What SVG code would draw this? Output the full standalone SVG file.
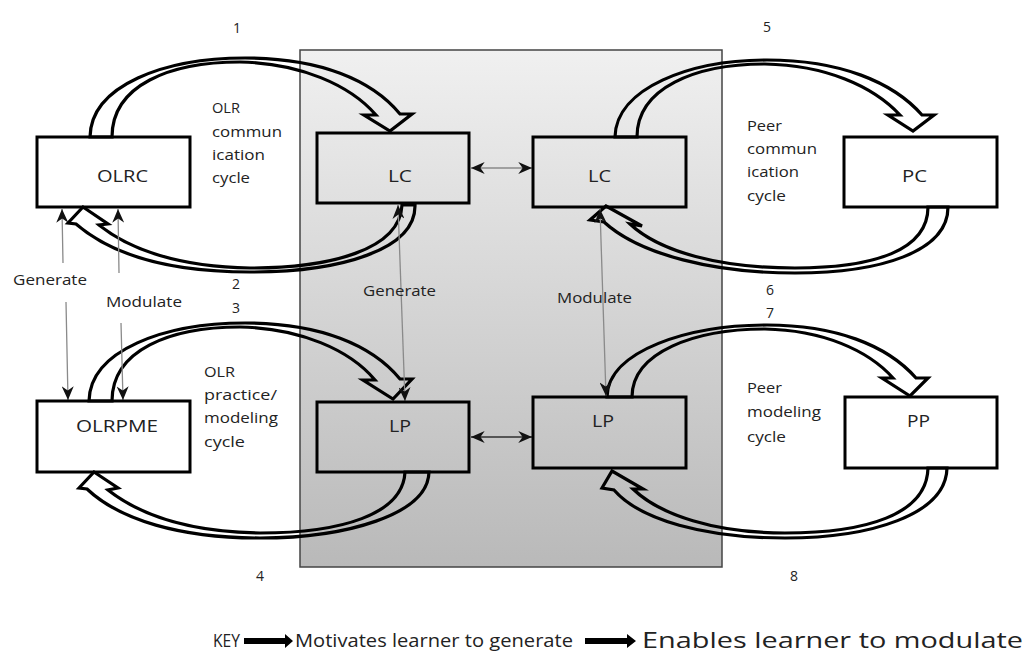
<svg xmlns="http://www.w3.org/2000/svg" width="1026" height="653" viewBox="0 0 1026 653">
<style>
text{font-family:"Open Sans","Liberation Sans",sans-serif;fill:#222}
.n{font-size:16px}
.c{font-size:14px}
.k{font-size:19px}
.k2{font-size:21px}
.box{fill:none;stroke:#000;stroke-width:3}
.cyc{fill:none;stroke:#000;stroke-width:3.2;stroke-linejoin:miter}
.thin{fill:none;stroke:#8a8a8a;stroke-width:1.3}
</style>
<defs>
<linearGradient id="pg" x1="0" y1="0" x2="0" y2="1">
<stop offset="0" stop-color="#f0f0f0"/>
<stop offset="1" stop-color="#b9b9b9"/>
</linearGradient>
<marker id="ah" viewBox="0 0 16 14" refX="16" refY="7" markerWidth="14" markerHeight="12" markerUnits="userSpaceOnUse" orient="auto-start-reverse">
<path d="M0,0 L16,7 L0,14 L5,7 Z" fill="#111"/>
</marker>
</defs>
<rect width="1026" height="653" fill="#fff"/>
<rect id="panel" x="300" y="50" width="422" height="517" fill="url(#pg)" stroke="#444" stroke-width="1.5"/>

<g id="connectors">
<path class="cyc" d="M 90,137 C 91,85 165,58 245,58 C 320,58 372,80 400,114 L 412,114 L 390,131 L 364,115 L 376,115 C 350,85 300,63 240,62 C 170,62 112,85 112,137 Z"/>
<path class="cyc" d="M 415,205 C 416,250 340,272 250,272 C 170,272 112,255 76,224 L 68,223 L 83,207 L 108,224 L 99,225 C 130,250 180,267 250,268 C 330,268 400,250 402,205 Z"/>
<path class="cyc" d="M 89,401 C 90,350 165,323 245,323 C 320,323 372,345 400,379 L 412,379 L 393,399 L 363,380 L 375,380 C 350,350 300,328 240,327 C 170,327 112,350 112,401 Z"/>
<path class="cyc" d="M 429,472 C 428,515 345,538 260,538 C 180,538 120,520 87,489 L 79,488 L 94,472 L 118,488 L 108,490 C 140,515 190,532 260,533 C 340,533 403,515 405,472 Z"/>
<path class="cyc" d="M 615,137 C 616,88 690,60 767,60 C 840,60 893,82 922,115 L 934,115 L 913,131 L 888,115 L 900,115 C 873,86 825,65 765,64 C 695,64 637,88 637,137 Z"/>
<path class="cyc" d="M 948,207 C 948,252 880,273 795,273 C 715,273 640,255 604,222 L 590,220 L 606,206 L 642,226 L 630,224 C 660,252 720,268 795,268 C 875,268 928,250 928,207 Z"/>
<path class="cyc" d="M 607,397 C 608,350 690,325 767,325 C 835,325 887,345 916,378 L 928,378 L 910,396 L 882,378 L 893,378 C 868,350 822,330 765,329 C 695,329 632,352 632,397 Z"/>
<path class="cyc" d="M 947,468 C 946,515 870,538 785,538 C 705,538 640,520 614,490 L 602,488 L 612,471 L 643,489 L 633,489 C 660,515 715,533 785,533 C 865,533 927,515 928,468 Z"/>
<path class="thin" d="M 62,209 L 63,263 M 66,302 L 68,400" marker-start="url(#ah)" marker-end="url(#ah)"/>
<path class="thin" d="M 118,209 L 119,273 M 121,323 L 123,400" marker-start="url(#ah)" marker-end="url(#ah)"/>
<path class="thin" d="M 398,205 L 405,401" marker-start="url(#ah)" marker-end="url(#ah)"/>
<path class="thin" d="M 600,209 L 606,396" marker-start="url(#ah)" marker-end="url(#ah)"/>
<path class="thin" d="M 471,168 L 532,168" marker-start="url(#ah)" marker-end="url(#ah)"/>
<path d="M 471,437 L 532,437" fill="none" stroke="#555" stroke-width="2" marker-start="url(#ah)" marker-end="url(#ah)"/>
</g>

<g id="OLRC"><rect class="box" x="37" y="137" width="153" height="70"/><text class="n" x="97" y="182" textLength="51" lengthAdjust="spacingAndGlyphs">OLRC</text></g>
<g id="LC1"><rect class="box" x="317" y="133" width="152" height="70"/><text class="n" x="388" y="182" textLength="24" lengthAdjust="spacingAndGlyphs">LC</text></g>
<g id="LC2"><rect class="box" x="533" y="137" width="153" height="70"/><text class="n" x="588" y="182" textLength="23" lengthAdjust="spacingAndGlyphs">LC</text></g>
<g id="PC"><rect class="box" x="844" y="137" width="153" height="70"/><text class="n" x="902" y="182" textLength="25" lengthAdjust="spacingAndGlyphs">PC</text></g>
<g id="OLRPME"><rect class="box" x="37" y="401" width="153" height="71"/><text class="n" x="76" y="432" textLength="82" lengthAdjust="spacingAndGlyphs">OLRPME</text></g>
<g id="LP1"><rect class="box" x="317" y="402" width="152" height="70"/><text class="n" x="389" y="432" textLength="22" lengthAdjust="spacingAndGlyphs">LP</text></g>
<g id="LP2"><rect class="box" x="533" y="397" width="153" height="71"/><text class="n" x="592" y="427" textLength="22" lengthAdjust="spacingAndGlyphs">LP</text></g>
<g id="PP"><rect class="box" x="845" y="397" width="152" height="71"/><text class="n" x="907" y="427" textLength="23" lengthAdjust="spacingAndGlyphs">PP</text></g>

<g id="labels">
<text class="c" x="233" y="33">1</text>
<text class="c" x="232" y="289">2</text>
<text class="c" x="232" y="313">3</text>
<text class="c" x="256" y="581">4</text>
<text class="c" x="763" y="32">5</text>
<text class="c" x="766" y="295">6</text>
<text class="c" x="766" y="318">7</text>
<text class="c" x="790" y="581">8</text>
<text class="c" x="212" y="113" textLength="28" lengthAdjust="spacingAndGlyphs">OLR</text>
<text class="c" x="212" y="137" textLength="70" lengthAdjust="spacingAndGlyphs">commun</text>
<text class="c" x="212" y="160" textLength="53" lengthAdjust="spacingAndGlyphs">ication</text>
<text class="c" x="212" y="183" textLength="38" lengthAdjust="spacingAndGlyphs">cycle</text>
<text class="c" x="747" y="131" textLength="35" lengthAdjust="spacingAndGlyphs">Peer</text>
<text class="c" x="747" y="154" textLength="70" lengthAdjust="spacingAndGlyphs">commun</text>
<text class="c" x="747" y="177" textLength="52" lengthAdjust="spacingAndGlyphs">ication</text>
<text class="c" x="747" y="201" textLength="39" lengthAdjust="spacingAndGlyphs">cycle</text>
<text class="c" x="204" y="377" textLength="31" lengthAdjust="spacingAndGlyphs">OLR</text>
<text class="c" x="204" y="400" textLength="73" lengthAdjust="spacingAndGlyphs">practice/</text>
<text class="c" x="204" y="423" textLength="74" lengthAdjust="spacingAndGlyphs">modeling</text>
<text class="c" x="204" y="447" textLength="41" lengthAdjust="spacingAndGlyphs">cycle</text>
<text class="c" x="747" y="393" textLength="35" lengthAdjust="spacingAndGlyphs">Peer</text>
<text class="c" x="747" y="417" textLength="74" lengthAdjust="spacingAndGlyphs">modeling</text>
<text class="c" x="747" y="442" textLength="39" lengthAdjust="spacingAndGlyphs">cycle</text>
<text class="c" x="13" y="285" textLength="74" lengthAdjust="spacingAndGlyphs">Generate</text>
<text class="c" x="106" y="307" textLength="76" lengthAdjust="spacingAndGlyphs">Modulate</text>
<text class="c" x="363" y="296" textLength="73" lengthAdjust="spacingAndGlyphs">Generate</text>
<text class="c" x="557" y="303" textLength="75" lengthAdjust="spacingAndGlyphs">Modulate</text>
</g>

<g id="key">
<text class="k" x="213" y="647" textLength="27" lengthAdjust="spacingAndGlyphs">KEY</text>
<path d="M 244,638 L 285,638 L 285,634 L 293,641 L 285,648 L 285,644 L 244,644 Z" fill="#000"/>
<text class="k" x="295" y="647" textLength="278" lengthAdjust="spacingAndGlyphs">Motivates learner to generate</text>
<path d="M 585,638 L 627,638 L 627,634 L 636,641 L 627,648 L 627,644 L 585,644 Z" fill="#000"/>
<text class="k2" x="642" y="648" textLength="381" lengthAdjust="spacingAndGlyphs">Enables learner to modulate</text>
</g>
</svg>
